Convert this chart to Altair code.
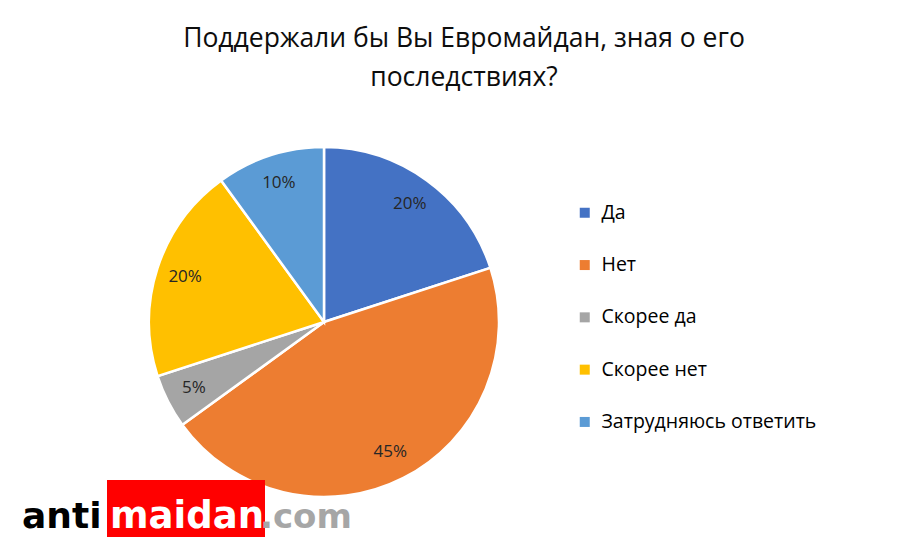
import altair as alt
import pandas as pd

categories = ["Да", "Нет", "Скорее да", "Скорее нет", "Затрудняюсь ответить"]
values = [20, 45, 5, 20, 10]
labels = ["20%", "45%", "5%", "20%", "10%"]
colors = ["#4472C4", "#ED7D31", "#A5A5A5", "#FFC000", "#5B9BD5"]
title_lines = ["Поддержали бы Вы Евромайдан, зная о его", "последствиях?"]
watermark = ["anti", "maidan", ".com"]

df = pd.DataFrame({"category": categories, "value": values, "label": labels,
                   "order": list(range(len(categories)))})
one = pd.DataFrame({"a": [0]})

CX, CY, R = 316, 314, 175
FONT = "Open Sans"

base = alt.Chart(df).encode(
    theta=alt.Theta("value:Q", stack=True),
    order=alt.Order("order:Q"),
)

pie = base.mark_arc(outerRadius=R, stroke="white", strokeWidth=2.5).encode(
    x=alt.value(CX), y=alt.value(CY),
    color=alt.Color(
        "category:N",
        scale=alt.Scale(domain=categories, range=colors),
        sort=categories,
        legend=alt.Legend(
            orient="none", legendX=567, legendY=195, title=None,
            symbolType="square", symbolSize=100, symbolStrokeWidth=0,
            labelFontSize=19.5, labelFont=FONT, labelColor="#000000",
            rowPadding=31.3, labelOffset=7, labelLimit=400,
        ),
    ),
)

pie_text = base.mark_text(radius=146, fontSize=17, font=FONT, color="#262626").encode(
    x=alt.value(CX), y=alt.value(CY), text="label:N"
)

title1 = alt.Chart(one).mark_text(fontSize=26.5, font=FONT, color="#0d0d0d",
                                  baseline="alphabetic", align="center").encode(
    x=alt.value(456), y=alt.value(39), text=alt.value(title_lines[0]))
title2 = alt.Chart(one).mark_text(fontSize=26.5, font=FONT, color="#0d0d0d",
                                  baseline="alphabetic", align="center").encode(
    x=alt.value(456), y=alt.value(78), text=alt.value(title_lines[1]))

wm_rect = alt.Chart(one).mark_rect(color="#ff0000").encode(
    x=alt.value(99), x2=alt.value(257), y=alt.value(472), y2=alt.value(537))
wm1 = alt.Chart(one).mark_text(fontSize=36, font="DejaVu Sans", fontWeight="bold",
                               color="#000000", align="left", baseline="alphabetic").encode(
    x=alt.value(14), y=alt.value(520), text=alt.value(watermark[0]))
wm2 = alt.Chart(one).mark_text(fontSize=37, font="DejaVu Sans", fontWeight="bold",
                               color="#ffffff", align="left", baseline="alphabetic").encode(
    x=alt.value(102), y=alt.value(520), text=alt.value(watermark[1]))
wm3 = alt.Chart(one).mark_text(fontSize=34, font="DejaVu Sans", fontWeight="bold",
                               color="#a6a6a6", align="left", baseline="alphabetic").encode(
    x=alt.value(252), y=alt.value(520), text=alt.value(watermark[2]))

chart = alt.layer(pie, pie_text, title1, title2, wm_rect, wm1, wm2, wm3).properties(
    width=903, height=529, autosize="none", padding=0,
).configure_view(stroke=None)

chart.save("out.html", embed_options={"renderer": "svg", "actions": False})
